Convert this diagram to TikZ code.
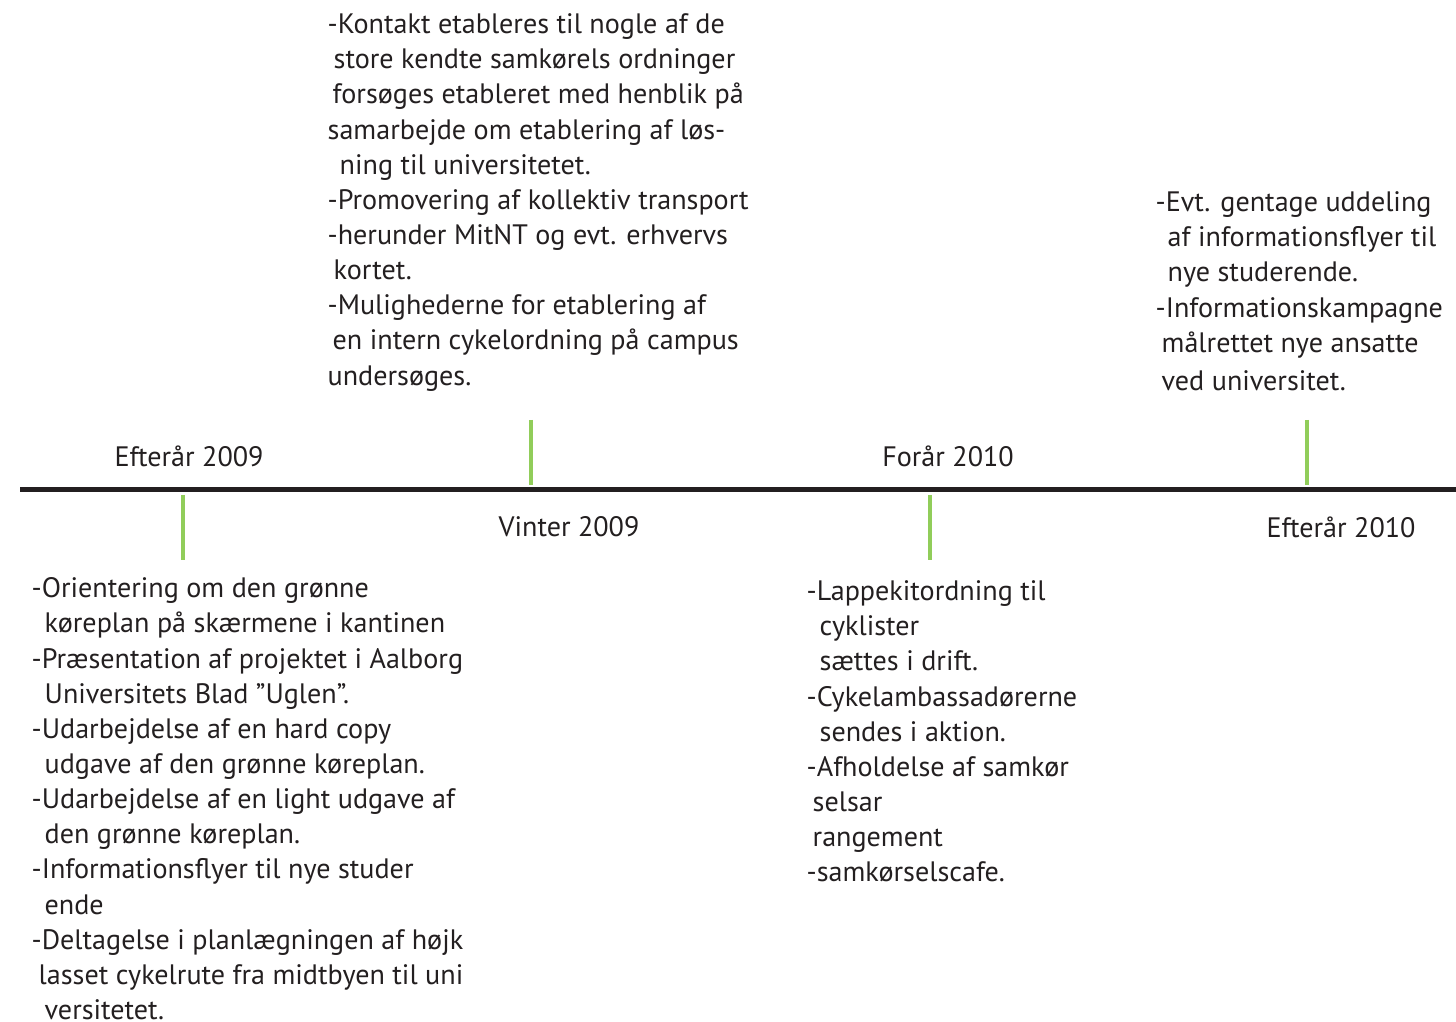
\documentclass[tikz,border=0pt]{standalone}
\usepackage{fontspec}
\setmainfont{PT Sans}
\usepackage{tikz}
\usetikzlibrary{positioning}
\definecolor{myblack}{RGB}{35,31,32}
\definecolor{mygreen}{RGB}{145,205,90}
\tikzset{
  axis/.style={line width=0.5mm, draw=myblack},
  tick/.style={line width=0.45mm, draw=mygreen},
  season/.style={font=\fontsize{8}{10}\selectfont, text=myblack, inner sep=0pt},
  notes/.style={font=\fontsize{8}{10}\selectfont, text=myblack,
    align=left, inner sep=0pt, anchor=north west}
}
\newcommand{\skipin}[1]{\hspace*{#1mm}}

\begin{document}
\begin{tikzpicture}[x=0.1mm, y=-0.1mm]
  \useasboundingbox (0,0) rectangle (1456,1022);

  % Time axis
  \coordinate (start) at (20,490);
  \coordinate (end) at (1456,490);
  \draw[axis] (start) -- (end);

  % Tick marks
  \coordinate (fall09a) at (183,495);  \coordinate (fall09b) at (183,560);
  \coordinate (win09a) at (531,420);   \coordinate (win09b) at (531,485);
  \coordinate (spr10a) at (930,495);   \coordinate (spr10b) at (930,560);
  \coordinate (fall10a) at (1307,420); \coordinate (fall10b) at (1307,485);
  \draw[tick] (fall09a) -- (fall09b);
  \draw[tick] (win09a) -- (win09b);
  \draw[tick] (spr10a) -- (spr10b);
  \draw[tick] (fall10a) -- (fall10b);

  % Season labels
  \node[season] (lblfall09) at (189,456) {Efterår 2009};
  \node[season] (lblwin09) at (569,527) {Vinter 2009};
  \node[season] (lblspr10) at (948,456) {Forår 2010};
  \node[season] (lblfall10) at (1341,527) {Efterår 2010};

  % Activities per period
  \node[notes] (actfall09) at (31,577) {%
    -Orientering om den grønne\\
    \skipin{1.3}køreplan på skærmene i kantinen\\
    -Præsentation af projektet i Aalborg\\
    \skipin{1.3}Universitets Blad ”Uglen”.\\
    -Udarbejdelse af en hard copy\\
    \skipin{1.3}udgave af den grønne køreplan.\\
    -Udarbejdelse af en light udgave af\\
    \skipin{1.3}den grønne køreplan.\\
    -Informationsflyer til nye studer\\
    \skipin{1.3}ende\\
    -Deltagelse i planlægningen af højk\\
    \skipin{0.7}lasset cykelrute fra midtbyen til uni\\
    \skipin{1.3}versitetet.};

  \node[notes] (actwin09) at (327,13) {%
    -Kontakt etableres til nogle af de\\
    \skipin{0.6}store kendte samkørels ordninger\\
    \skipin{0.5}forsøges etableret med henblik på\\
    samarbejde om etablering af løs-\\
    \skipin{1.2}ning til universitetet.\\
    -Promovering af kollektiv transport\\
    -herunder MitNT og evt. erhvervs\\
    \skipin{0.6}kortet.\\
    -Mulighederne for etablering af\\
    \skipin{0.5}en intern cykelordning på campus\\
    undersøges.};

  \node[notes] (actspr10) at (806,580) {%
    -Lappekitordning til\\
    \skipin{1.3}cyklister\\
    \skipin{1.3}sættes i drift.\\
    -Cykelambassadørerne\\
    \skipin{1.3}sendes i aktion.\\
    -Afholdelse af samkør\\
    \skipin{0.6}selsar\\
    \skipin{0.6}rangement\\
    -samkørselscafe.};

  \node[notes] (actfall10) at (1155,191) {%
    -Evt. gentage uddeling\\
    \skipin{1.2}af informationsflyer til\\
    \skipin{1.2}nye studerende.\\
    -Informationskampagne\\
    \skipin{0.6}målrettet nye ansatte\\[0.3mm]
    \skipin{0.6}ved universitet.};
\end{tikzpicture}
\end{document}
